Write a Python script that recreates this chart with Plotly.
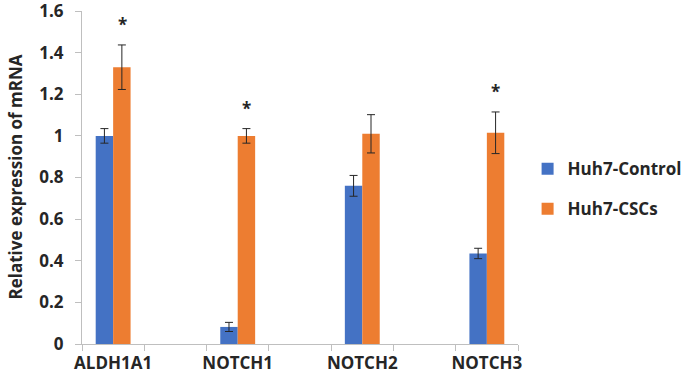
import plotly.graph_objects as go

categories = ["ALDH1A1", "NOTCH1", "NOTCH2", "NOTCH3"]
control_vals = [1.0, 0.082, 0.76, 0.435]
control_err = [0.035, 0.022, 0.05, 0.025]
cscs_vals = [1.33, 1.0, 1.01, 1.015]
cscs_err = [0.107, 0.035, 0.092, 0.1]
significant = [True, True, False, True]
y_ticks = [0, 0.2, 0.4, 0.6, 0.8, 1.0, 1.2, 1.4, 1.6]
y_ticktext = ["0", "0.2", "0.4", "0.6", "0.8", "1", "1.2", "1.4", "1.6"]

xpos = [2 * i for i in range(len(categories))]

FONT = "Open Sans"
TXT = "#262626"

fig = go.Figure()
fig.add_trace(go.Bar(
    x=xpos, y=control_vals, name="Huh7-Control",
    marker=dict(color="#4472C4", line=dict(width=0)),
    error_y=dict(type="data", array=control_err, color="#262626", thickness=1, width=4),
    legendgroup="a",
))
fig.add_trace(go.Bar(
    x=xpos, y=cscs_vals, name="Huh7-CSCs",
    marker=dict(color="#ED7D31", line=dict(width=0)),
    error_y=dict(type="data", array=cscs_err, color="#262626", thickness=1, width=4),
    legendgroup="b",
))

for x, v, e, s in zip(xpos, cscs_vals, cscs_err, significant):
    if s:
        fig.add_annotation(
            x=x, y=v + e, xshift=9, yshift=7, text="*", showarrow=False,
            yanchor="bottom", font=dict(family=FONT, size=17, color=TXT, weight="bold"),
        )

fig.add_annotation(
    xref="paper", yref="paper", x=(15 - 82) / 436, y=0.5,
    text="Relative expression of mRNA", textangle=-90, showarrow=False,
    xanchor="center", yanchor="middle",
    font=dict(family=FONT, size=17, color=TXT, weight="bold"),
)

fig.update_layout(
    width=685, height=379,
    margin=dict(l=82, r=167, t=11, b=35, autoexpand=False),
    paper_bgcolor="white", plot_bgcolor="white",
    barmode="group", bargap=0.72, bargroupgap=0,
    font=dict(family=FONT, size=17, color=TXT, weight="bold"),
    legend=dict(
        x=1.022, y=0.465, xanchor="left", yanchor="middle",
        font=dict(family=FONT, size=17, color=TXT, weight="bold"),
        tracegroupgap=15, traceorder="grouped",
        itemwidth=30,
    ),
    showlegend=True,
)
fig.update_xaxes(
    range=[-0.5, 6.5], tickvals=xpos, ticktext=categories,
    showline=True, linecolor="#BFBFBF", linewidth=1,
    ticks="", showgrid=False, zeroline=False, automargin=False,
    ticklabelstandoff=4,
    tickfont=dict(family=FONT, size=17, color=TXT, weight="bold"),
    minor=dict(tickmode="linear", tick0=-0.5, dtick=1, ticks="outside",
               ticklen=6, tickcolor="#BFBFBF", tickwidth=1, showgrid=False),
)
fig.update_yaxes(
    range=[0, 1.6001], tickvals=y_ticks, ticktext=y_ticktext,
    showline=True, linecolor="#BFBFBF", linewidth=1,
    ticks="outside", ticklen=6, tickcolor="#BFBFBF",
    showgrid=False, zeroline=False, automargin=False,
    ticklabelstandoff=8, ticklabeloverflow="allow",
    tickfont=dict(family=FONT, size=17, color=TXT, weight="bold"),
)

fig.write_html("out.html", config={"displayModeBar": False},
               post_script="document.body.style.margin='0';document.body.style.padding='0';")
